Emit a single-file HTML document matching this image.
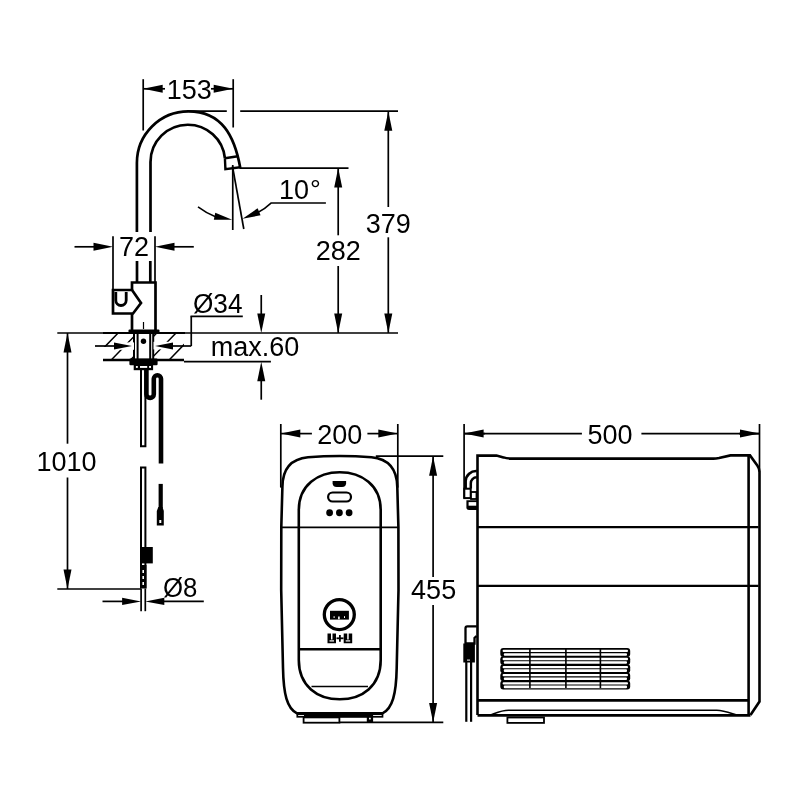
<!DOCTYPE html>
<html><head><meta charset="utf-8"><style>
html,body{margin:0;padding:0;background:#fff;width:800px;height:800px;overflow:hidden}
svg{display:block}
text{font-family:"Liberation Sans",sans-serif;fill:#000}
svg{will-change:transform}
</style></head><body>
<svg width="800" height="800" viewBox="0 0 800 800" stroke="none" fill="#000" stroke-linecap="butt">
<rect x="0" y="0" width="800" height="800" fill="#fff" stroke="none"/>
<line x1="143.2" y1="79.2" x2="143.2" y2="130.5" stroke="#000" stroke-width="1.7"/>
<line x1="233.2" y1="79.2" x2="233.2" y2="127.5" stroke="#000" stroke-width="1.7"/>
<line x1="143.2" y1="88.8" x2="165" y2="88.8" stroke="#000" stroke-width="1.7"/>
<polygon points="143.20,88.80 162.70,84.80 162.70,92.80"/>
<line x1="211" y1="88.8" x2="233.2" y2="88.8" stroke="#000" stroke-width="1.7"/>
<polygon points="233.20,88.80 213.70,92.80 213.70,84.80"/>
<line x1="187" y1="111.2" x2="226.8" y2="111.2" stroke="#000" stroke-width="1.7"/>
<line x1="240.2" y1="111.2" x2="398" y2="111.2" stroke="#000" stroke-width="1.7"/>
<line x1="388.3" y1="111.2" x2="388.3" y2="207" stroke="#000" stroke-width="1.7"/>
<polygon points="388.30,111.20 392.30,130.70 384.30,130.70"/>
<line x1="388.3" y1="237.3" x2="388.3" y2="332.9" stroke="#000" stroke-width="1.7"/>
<polygon points="388.30,332.90 384.30,313.40 392.30,313.40"/>
<line x1="239.5" y1="168.1" x2="348.5" y2="168.1" stroke="#000" stroke-width="1.7"/>
<line x1="338.2" y1="168.1" x2="338.2" y2="235.3" stroke="#000" stroke-width="1.7"/>
<polygon points="338.20,168.10 342.20,187.60 334.20,187.60"/>
<line x1="338.2" y1="266" x2="338.2" y2="332.9" stroke="#000" stroke-width="1.7"/>
<polygon points="338.20,332.90 334.20,313.40 342.20,313.40"/>
<line x1="57.3" y1="333.0" x2="398" y2="333.0" stroke="#000" stroke-width="1.7"/>
<line x1="232.75" y1="165" x2="232.75" y2="230" stroke="#000" stroke-width="1.7"/>
<line x1="232.5" y1="166.3" x2="243.8" y2="229" stroke="#000" stroke-width="1.7"/>
<path d="M198,206.9 Q206,213 216,217" fill="none" stroke="#000" stroke-width="1.5"/>
<polygon points="232.20,219.80 213.84,219.80 215.26,212.74"/>
<path d="M257,213 Q265,209 271.3,202.9 H325.9" fill="none" stroke="#000" stroke-width="1.5"/>
<polygon points="242.50,218.75 257.62,208.28 260.57,215.28"/>
<line x1="113" y1="236.3" x2="113" y2="290" stroke="#000" stroke-width="1.7"/>
<line x1="155" y1="236.3" x2="155" y2="282.5" stroke="#000" stroke-width="1.7"/>
<line x1="74.5" y1="246.8" x2="96" y2="246.8" stroke="#000" stroke-width="1.7"/>
<polygon points="113.00,246.80 93.50,250.80 93.50,242.80"/>
<line x1="172" y1="246.8" x2="193.8" y2="246.8" stroke="#000" stroke-width="1.7"/>
<polygon points="155.00,246.80 174.50,242.80 174.50,250.80"/>
<line x1="67.5" y1="333" x2="67.5" y2="443.7" stroke="#000" stroke-width="1.7"/>
<polygon points="67.50,333.00 71.50,352.50 63.50,352.50"/>
<line x1="67.5" y1="477.5" x2="67.5" y2="589" stroke="#000" stroke-width="1.7"/>
<polygon points="67.50,589.00 63.50,569.50 71.50,569.50"/>
<line x1="57.3" y1="589" x2="141" y2="589" stroke="#000" stroke-width="1.7"/>
<line x1="191.25" y1="346" x2="191.25" y2="316.3" stroke="#000" stroke-width="1.7"/>
<line x1="190.5" y1="316.3" x2="242.8" y2="316.3" stroke="#000" stroke-width="1.7"/>
<line x1="261.25" y1="295" x2="261.25" y2="320" stroke="#000" stroke-width="1.7"/>
<polygon points="261.25,333.00 257.25,313.50 265.25,313.50"/>
<line x1="261.25" y1="370" x2="261.25" y2="399.7" stroke="#000" stroke-width="1.7"/>
<polygon points="261.25,361.70 265.25,381.20 257.25,381.20"/>
<line x1="184" y1="361.7" x2="270.9" y2="361.7" stroke="#000" stroke-width="1.7"/>
<line x1="141.1" y1="589" x2="141.1" y2="611.2" stroke="#000" stroke-width="1.7"/>
<line x1="145.3" y1="589" x2="145.3" y2="611.2" stroke="#000" stroke-width="1.7"/>
<line x1="102.5" y1="601.4" x2="125" y2="601.4" stroke="#000" stroke-width="1.7"/>
<polygon points="141.10,601.40 122.10,605.00 122.10,597.80"/>
<line x1="160" y1="601.4" x2="203.8" y2="601.4" stroke="#000" stroke-width="1.7"/>
<polygon points="145.30,601.40 164.30,597.80 164.30,605.00"/>
<path d="M136.9,232 V162.85 A51.5,51.5 0 0 1 188.4,111.35 C222,111.35 234.5,136 240.3,168" fill="none" stroke="#000" stroke-width="2.7"/>
<path d="M150.5,232 V162 A37.25,37.25 0 0 1 187.75,124.75 A37.25,37.25 0 0 1 224.9,158.2" fill="none" stroke="#000" stroke-width="2.7"/>
<path d="M224.9,158.2 L225.4,169.1 L240.3,167.3 M225,158.2 L237.8,156.2" fill="none" stroke="#000" stroke-width="2.4"/>
<line x1="137" y1="261" x2="137" y2="282.5" stroke="#000" stroke-width="2.7"/>
<line x1="150.3" y1="261" x2="150.3" y2="282.5" stroke="#000" stroke-width="2.7"/>
<path d="M132,290 V282.5 H155.5 V330" fill="none" stroke="#000" stroke-width="2.7"/>
<path d="M132,313.5 V330" fill="none" stroke="#000" stroke-width="2.7"/>
<path d="M132,290 H113 V313.5 H133 L141,303 L132,290" fill="none" stroke="#000" stroke-width="2.7"/>
<path d="M115.8,292 V300.3 A5.2,5.2 0 0 0 126.2,300.3 V292" fill="none" stroke="#000" stroke-width="2.8"/>
<line x1="143.5" y1="322" x2="143.5" y2="329" stroke="#000" stroke-width="1.2"/>
<rect x="128.5" y="329.4" width="31" height="4" rx="1"/>
<line x1="103" y1="333" x2="185" y2="333" stroke="#000" stroke-width="2.2"/>
<line x1="103" y1="360" x2="184" y2="360" stroke="#000" stroke-width="2.6"/>
<line x1="134" y1="333" x2="134" y2="359" stroke="#000" stroke-width="2"/>
<line x1="137.6" y1="333" x2="137.6" y2="359" stroke="#000" stroke-width="2"/>
<line x1="150.2" y1="333" x2="150.2" y2="359" stroke="#000" stroke-width="2"/>
<line x1="153.2" y1="333" x2="153.2" y2="359" stroke="#000" stroke-width="2"/>
<circle cx="143.5" cy="341.2" r="2.7"/>
<rect x="129.4" y="358.5" width="28.2" height="6.8" rx="1.2"/>
<rect x="133.7" y="365" width="19.4" height="5.2"/>
<rect x="135.9" y="366" width="1.9" height="1.9" fill="#fff"/>
<rect x="140" y="366" width="7.2" height="1.9" fill="#fff"/>
<rect x="149.1" y="366" width="1.9" height="1.9" fill="#fff"/>
<clipPath id="hl"><rect x="103" y="333" width="31" height="27"/></clipPath>
<clipPath id="hr"><rect x="153" y="333" width="31" height="27"/></clipPath>
<path d="M72.61,360 L98.82,333 M91.91,360 L118.12,333 M111.21,360 L137.42,333 M130.51,360 L156.72,333 M149.81,360 L176.02,333 M169.11,360 L195.32,333 M188.41,360 L214.62,333" clip-path="url(#hl)" fill="none" stroke="#000" stroke-width="1.5"/>
<path d="M72.61,360 L98.82,333 M91.91,360 L118.12,333 M111.21,360 L137.42,333 M130.51,360 L156.72,333 M149.81,360 L176.02,333 M169.11,360 L195.32,333 M188.41,360 L214.62,333" clip-path="url(#hr)" fill="none" stroke="#000" stroke-width="1.5"/>
<rect x="112" y="342.4" width="22" height="7.4" fill="#fff"/>
<rect x="102" y="346.9" width="6" height="5" fill="#fff"/>
<rect x="153.5" y="341.8" width="21.5" height="7.6" fill="#fff"/>
<line x1="95" y1="346" x2="120" y2="346" stroke="#000" stroke-width="1.7"/>
<polygon points="132.00,346.00 114.00,349.60 114.00,342.40"/>
<line x1="168" y1="346" x2="191.25" y2="346" stroke="#000" stroke-width="1.7"/>
<polygon points="155.00,346.00 173.00,342.40 173.00,349.60"/>
<path d="M141,370 V446.2 H145.4 V370" fill="none" stroke="#000" stroke-width="2"/>
<path d="M141,588.5 V467.6 H145.4 V588.5" fill="none" stroke="#000" stroke-width="2"/>
<rect x="140.6" y="547" width="12.2" height="16.4"/>
<rect x="140" y="565" width="6.5" height="23.5"/>
<rect x="142.4" y="570" width="1.6" height="3" fill="#fff"/>
<rect x="142.4" y="576" width="1.6" height="3" fill="#fff"/>
<rect x="142.4" y="582" width="1.6" height="3" fill="#fff"/>
<path d="M146.4,370 V394.2 A3.7,3.7 0 0 0 153.8,394.2 V378.8 A3.6,3.6 0 0 1 161,378.8 V463.6" fill="none" stroke="#000" stroke-width="4.6"/>
<path d="M160.7,483.9 V508" fill="none" stroke="#000" stroke-width="4.2"/>
<path d="M158.3,507 H162.5 L163.8,511 V525.6 H156.8 V511 Z"/>
<rect x="159.3" y="520" width="2" height="3" fill="#fff"/>
<text x="0" y="0" transform="translate(166.70000000000002,98.8) scale(1.0,1)" font-size="27" text-anchor="start">153</text>
<text x="0" y="0" transform="translate(279.05,198.5) scale(1.0,1)" font-size="27" text-anchor="start">10</text>
<text x="0" y="0" transform="translate(310,198.5) scale(1.0,1)" font-size="27" text-anchor="start">°</text>
<text x="0" y="0" transform="translate(365.65,232.75) scale(1.0,1)" font-size="27" text-anchor="start">379</text>
<text x="0" y="0" transform="translate(315.79999999999995,260) scale(1.0,1)" font-size="27" text-anchor="start">282</text>
<text x="0" y="0" transform="translate(118.9,255.75) scale(1.0,1)" font-size="27" text-anchor="start">72</text>
<text x="0" y="0" transform="translate(193.0,312.5) scale(0.97,1)" font-size="27" text-anchor="start">Ø34</text>
<text x="0" y="0" transform="translate(210.65,356.25) scale(1.0,1)" font-size="27" text-anchor="start">max.60</text>
<text x="0" y="0" transform="translate(36.55,470.8) scale(1.0,1)" font-size="27" text-anchor="start">1010</text>
<text x="0" y="0" transform="translate(163.0,597) scale(0.955,1)" font-size="27" text-anchor="start">Ø8</text>
<text x="0" y="0" transform="translate(317.15,443.8) scale(1.0,1)" font-size="27" text-anchor="start">200</text>
<text x="0" y="0" transform="translate(411.1,598.7) scale(1.0,1)" font-size="27" text-anchor="start">455</text>
<text x="0" y="0" transform="translate(587.5,444.4) scale(1.0,1)" font-size="27" text-anchor="start">500</text>
<line x1="280.8" y1="424" x2="280.8" y2="487.6" stroke="#000" stroke-width="1.7"/>
<line x1="397.8" y1="424" x2="397.8" y2="487.6" stroke="#000" stroke-width="1.7"/>
<line x1="280.8" y1="433.6" x2="311.9" y2="433.6" stroke="#000" stroke-width="1.7"/>
<polygon points="280.80,433.60 300.30,429.60 300.30,437.60"/>
<line x1="367.4" y1="433.6" x2="397.8" y2="433.6" stroke="#000" stroke-width="1.7"/>
<polygon points="397.80,433.60 378.30,437.60 378.30,429.60"/>
<line x1="375.8" y1="456.2" x2="443.3" y2="456.2" stroke="#000" stroke-width="1.7"/>
<line x1="433.1" y1="456.2" x2="433.1" y2="577" stroke="#000" stroke-width="1.7"/>
<polygon points="433.10,456.20 437.10,475.70 429.10,475.70"/>
<line x1="433.1" y1="605" x2="433.1" y2="722.5" stroke="#000" stroke-width="1.7"/>
<polygon points="433.10,722.50 429.10,703.00 437.10,703.00"/>
<line x1="339.7" y1="722.4" x2="443.3" y2="722.4" stroke="#000" stroke-width="1.7"/>
<path d="M297,713.3 C287,708.5 283.5,694 283,668 L281.2,590 L281.3,527 L282.4,487 C282.5,470 290,459 308,457.3 C320,456.3 330,456 339.75,456 C349.5,456 359.5,456.3 371.5,457.3 C389.5,459 397,470 397.3,487 L398.4,527 L398.5,590 L396.7,668 C396.2,694 392.5,708.5 382.5,713.3 Z" fill="none" stroke="#000" stroke-width="2.6"/>
<line x1="281.3" y1="527.3" x2="398.6" y2="527.3" stroke="#000" stroke-width="1.8"/>
<path d="M298.8,660 V510 C298.8,485 318,472.3 339.75,472.3 C361.5,472.3 380.7,485 380.7,510 V660 C380.7,686 362,699.3 339.75,699.3 C317.5,699.3 298.8,686 298.8,660 Z" fill="none" stroke="#000" stroke-width="2.6"/>
<line x1="298.8" y1="649.2" x2="380.7" y2="649.2" stroke="#000" stroke-width="2.6"/>
<line x1="311.5" y1="686.5" x2="368" y2="686.5" stroke="#000" stroke-width="1.5"/>
<path d="M332.6,481 H346.1 V483.3 Q346.1,487 342,487 H336.7 Q332.6,487 332.6,483.3 Z"/>
<rect x="328.1" y="492.5" width="22.9" height="9" rx="4.5" fill="none" stroke="#000" stroke-width="2.2"/>
<circle cx="329.6" cy="512.75" r="3.4"/>
<circle cx="339.4" cy="512.75" r="3.4"/>
<circle cx="349.1" cy="512.75" r="3.4"/>
<circle cx="339.3" cy="614.6" r="15" fill="none" stroke="#000" stroke-width="3.3"/>
<rect x="330" y="610.8" width="18.9" height="8.8"/>
<rect x="333.6" y="616.2" width="1" height="1.8" fill="#fff"/>
<rect x="338.1" y="616.5" width="1.6" height="2.8" fill="#fff"/>
<rect x="344" y="616.2" width="1" height="1.8" fill="#fff"/>
<path d="M327.5,633.5 H331 V639.5 H332.5 V633.5 H336 V643.2 H327.5 Z"/>
<path d="M343.7,633.5 H347.2 V639.5 H348.7 V633.5 H352.2 V643.2 H343.7 Z"/>
<rect x="329.5" y="640.3" width="4.5" height="1.2" fill="#fff"/>
<rect x="345.7" y="640.3" width="4.5" height="1.2" fill="#fff"/>
<line x1="336.5" y1="638.3" x2="343.5" y2="638.3" stroke="#000" stroke-width="1.8"/>
<line x1="339.9" y1="635" x2="339.9" y2="641.8" stroke="#000" stroke-width="1.8"/>
<rect x="297.3" y="714.2" width="85.2" height="2.6" fill="#fff" stroke="#000" stroke-width="1.7"/>
<rect x="304" y="713.4" width="63" height="4"/>
<rect x="303.6" y="717.4" width="35.8" height="5.3" fill="#fff" stroke="#000" stroke-width="1.8"/>
<rect x="366.8" y="713.4" width="6.3" height="9.1"/>
<rect x="369" y="717.8" width="1.8" height="1.6" fill="#fff"/>
<line x1="464.1" y1="424" x2="464.1" y2="498.5" stroke="#000" stroke-width="1.7"/>
<line x1="759.5" y1="424" x2="759.5" y2="472" stroke="#000" stroke-width="1.7"/>
<line x1="464.1" y1="433.6" x2="485" y2="433.6" stroke="#000" stroke-width="1.7"/>
<polygon points="464.10,433.60 483.60,429.60 483.60,437.60"/>
<line x1="739" y1="433.6" x2="759.5" y2="433.6" stroke="#000" stroke-width="1.7"/>
<polygon points="759.50,433.60 740.00,437.60 740.00,429.60"/>
<line x1="464.1" y1="433.6" x2="581.9" y2="433.6" stroke="#000" stroke-width="1.7"/>
<line x1="641.4" y1="433.6" x2="759.5" y2="433.6" stroke="#000" stroke-width="1.7"/>
<path d="M477.5,715 V455.6 H496.5 L503.5,457.4 Q506.5,458.6 511.5,458.6 H713.3 Q716,458.6 719,458 L730.5,455.4 H750 L757.3,465.5 Q759.5,468.5 759.5,472 V701.5 L750.5,715" fill="none" stroke="#000" stroke-width="2.6"/>
<line x1="748.6" y1="455.4" x2="748.6" y2="715" stroke="#000" stroke-width="2.6"/>
<line x1="477.5" y1="527.2" x2="758.5" y2="527.2" stroke="#000" stroke-width="2.2"/>
<line x1="477.5" y1="585.9" x2="758.5" y2="585.9" stroke="#000" stroke-width="2.2"/>
<line x1="477.5" y1="700.4" x2="748.6" y2="700.4" stroke="#000" stroke-width="2.6"/>
<path d="M477.5,715.3 H737 H750.5" fill="none" stroke="#000" stroke-width="2.8"/>
<path d="M489.4,715.3 C496,713 501,710.2 508.5,710.2 H716.8 C724,710.2 730,713 737,715.3" fill="none" stroke="#000" stroke-width="1.5"/>
<rect x="507.4" y="717.5" width="36.6" height="5.4" fill="#fff" stroke="#000" stroke-width="1.8"/>
<rect x="500.3" y="648.10" width="129.9" height="8.90" rx="3"/>
<rect x="500.3" y="656.20" width="129.9" height="8.90" rx="3"/>
<rect x="500.3" y="664.30" width="129.9" height="8.90" rx="3"/>
<rect x="500.3" y="672.40" width="129.9" height="8.90" rx="3"/>
<rect x="500.3" y="680.50" width="129.9" height="8.90" rx="3"/>
<rect x="502.6" y="649.75" width="125.4" height="2.3" rx="1" fill="#fff"/>
<rect x="503.8" y="653.15" width="123.2" height="2.6" rx="1" fill="#fff"/>
<rect x="502.6" y="657.85" width="125.4" height="2.3" rx="1" fill="#fff"/>
<rect x="503.8" y="661.25" width="123.2" height="2.6" rx="1" fill="#fff"/>
<rect x="502.6" y="665.95" width="125.4" height="2.3" rx="1" fill="#fff"/>
<rect x="503.8" y="669.35" width="123.2" height="2.6" rx="1" fill="#fff"/>
<rect x="502.6" y="674.05" width="125.4" height="2.3" rx="1" fill="#fff"/>
<rect x="503.8" y="677.45" width="123.2" height="2.6" rx="1" fill="#fff"/>
<rect x="502.6" y="682.15" width="125.4" height="2.3" rx="1" fill="#fff"/>
<rect x="503.8" y="685.55" width="123.2" height="2.6" rx="1" fill="#fff"/>
<rect x="529.1" y="649" width="1.6" height="39"/>
<rect x="565.1" y="649" width="1.6" height="39"/>
<rect x="599.6" y="649" width="1.6" height="39"/>
<path d="M465.6,488.5 V481 A10.6,10.6 0 0 1 476.8,471" fill="none" stroke="#000" stroke-width="2.7"/>
<path d="M470.8,488.5 V483.5 A6,6 0 0 1 476.8,477.3" fill="none" stroke="#000" stroke-width="2.5"/>
<rect x="464.3" y="488.7" width="6.4" height="9.4" fill="#fff" stroke="#000" stroke-width="2"/>
<rect x="471" y="492" width="5.5" height="7" fill="#fff" stroke="#000" stroke-width="1.8"/>
<path d="M466.4,500.3 H477 V510.1 H469 Q466.4,510.1 466.4,507.5 Z"/>
<rect x="468.6" y="502.1" width="7.6" height="3.6" fill="#fff"/>
<path d="M476.8,626.3 H467.3 Q465.5,626.3 465.5,628.3 V643.5 H474.5 V638 L476.5,636" fill="none" stroke="#000" stroke-width="2.3"/>
<rect x="463.3" y="643.5" width="11.6" height="19"/>
<rect x="467" y="659.6" width="3" height="1" fill="#fff"/>
<line x1="466.3" y1="662" x2="466.3" y2="721.8" stroke="#000" stroke-width="2.2"/>
<line x1="471.1" y1="662" x2="471.1" y2="721.8" stroke="#000" stroke-width="2.2"/>
</svg></body></html>
